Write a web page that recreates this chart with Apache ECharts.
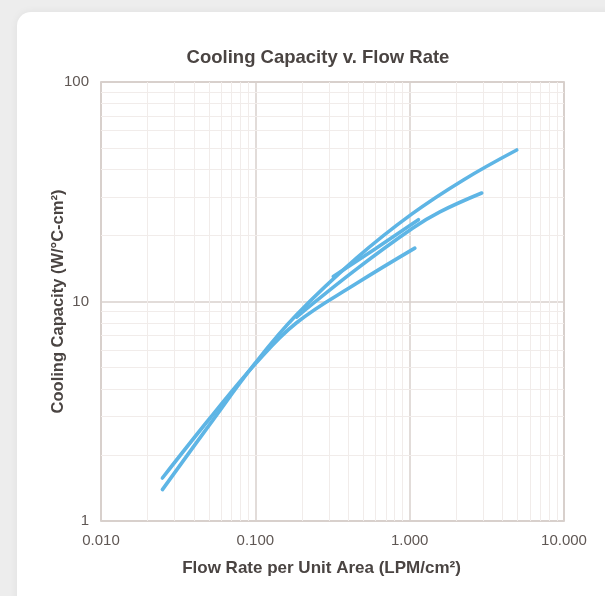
<!DOCTYPE html>
<html>
<head>
<meta charset="utf-8">
<script src="https://cdn.jsdelivr.net/npm/echarts@6/dist/echarts.min.js"></script>
<style>
  html, body { margin: 0; padding: 0; background: #ededed; overflow: hidden; }
  #card {
    position: absolute; left: 17px; top: 12px; width: 620px; height: 620px;
    background: #fff; border-radius: 14px; box-shadow: 0 0 8px rgba(0,0,0,0.06);
  }
  #chart { position: absolute; left: 0; top: 0; width: 605px; height: 596px; }
</style>
</head>
<body>
<div id="card"></div>
<div id="chart"></div>
<script>
// 冷却能力 vs 流量 (log-log)
const COLORS = {
  line: '#5eb5e5', text: '#4a4442', label: '#5f5754',
  major: '#d8d0cc', minor: '#f1ecea', border: '#c9c0bc',
};

// 各曲线数据 [flow LPM/cm², W/°C-cm²]
const flowA = [0.025, 0.05, 0.1, 0.185, 0.454, 1.03, 2.23, 4.94];
const capA  = [1.39, 2.72, 5.25, 8.7, 15.8, 25.0, 35.8, 49.0];

const flowB = [0.185, 0.45, 1.05, 1.57, 2.93];
const capB  = [8.5, 14.0, 21.6, 25.6, 31.2];

const flowC = [0.025, 0.05, 0.1, 0.185, 0.454, 1.08];
const capC  = [1.57, 2.9, 5.2, 8.0, 12.1, 17.5];

const flowD = [0.32, 0.6, 1.14];
const capD  = [13.0, 17.4, 23.6];

// 次网格线
const minorX = [0.02, 0.03, 0.04, 0.05, 0.06, 0.07, 0.08, 0.09,
                0.2, 0.3, 0.4, 0.5, 0.6, 0.7, 0.8, 0.9,
                2, 3, 4, 5, 6, 7, 8, 9];
const minorY = [2, 3, 4, 5, 6, 7, 8, 9, 20, 30, 40, 50, 60, 70, 80, 90];

const FONT = "'Liberation Sans', Arial, sans-serif";

function zip(xs, ys) { return xs.map((x, i) => [x, ys[i]]); }

function curve(xs, ys) {
  return {
    type: 'line', data: zip(xs, ys), smooth: 0.4, symbol: 'none', z: 5,
    lineStyle: { color: COLORS.line, width: 3.6, cap: 'round' },
  };
}

const chart = echarts.init(document.getElementById('chart'));
chart.setOption({
  backgroundColor: 'transparent',
  textStyle: { fontFamily: FONT },
  animation: false,
  title: {
    text: 'Cooling Capacity v. Flow Rate', left: 313, top: 43, textAlign: 'center',
    textStyle: { color: COLORS.text, fontSize: 18.5, fontWeight: 'bold', fontFamily: FONT },
  },
  grid: {
    left: 101, right: 41, top: 82, bottom: 75,
    show: true, borderColor: COLORS.border, borderWidth: 1.5, backgroundColor: 'transparent',
  },
  xAxis: {
    type: 'log', logBase: 10, min: 0.01, max: 10,
    name: 'Flow Rate per Unit Area (LPM/cm²)', nameLocation: 'middle', nameGap: 39,
    nameTextStyle: { color: COLORS.text, fontSize: 17, fontWeight: 'bold', fontFamily: FONT,
      padding: [0, 22, 0, 0] },
    axisLine: { show: false }, axisTick: { show: false },
    axisLabel: { color: COLORS.label, fontSize: 15, margin: 12, fontFamily: FONT,
      formatter: v => v.toFixed(3) },
    splitLine: { lineStyle: { color: COLORS.major, width: 1.5 } },
  },
  yAxis: {
    type: 'log', logBase: 10, min: 1, max: 100,
    name: 'Cooling Capacity (W/°C-cm²)', nameLocation: 'middle', nameGap: 34,
    nameMoveOverlap: false,
    nameTextStyle: { color: COLORS.text, fontSize: 16.5, fontWeight: 'bold', fontFamily: FONT },
    axisLine: { show: false }, axisTick: { show: false },
    axisLabel: { color: COLORS.label, fontSize: 15, margin: 12, fontFamily: FONT,
      verticalAlign: 'middle', formatter: v => String(Math.round(v)) },
    splitLine: { lineStyle: { color: COLORS.major, width: 1.5 } },
  },
  series: [
    {
      type: 'line', data: [[0.01, 1]], symbol: 'none', silent: true, z: 1,
      lineStyle: { opacity: 0 },
      markLine: {
        silent: true, symbol: 'none', animation: false, label: { show: false },
        lineStyle: { color: COLORS.minor, width: 1, type: 'solid' },
        data: minorX.map(v => ({ xAxis: v })).concat(minorY.map(v => ({ yAxis: v }))),
      },
    },
    curve(flowA, capA),
    curve(flowB, capB),
    curve(flowC, capC),
    curve(flowD, capD),
  ],
});
</script>
</body>
</html>
